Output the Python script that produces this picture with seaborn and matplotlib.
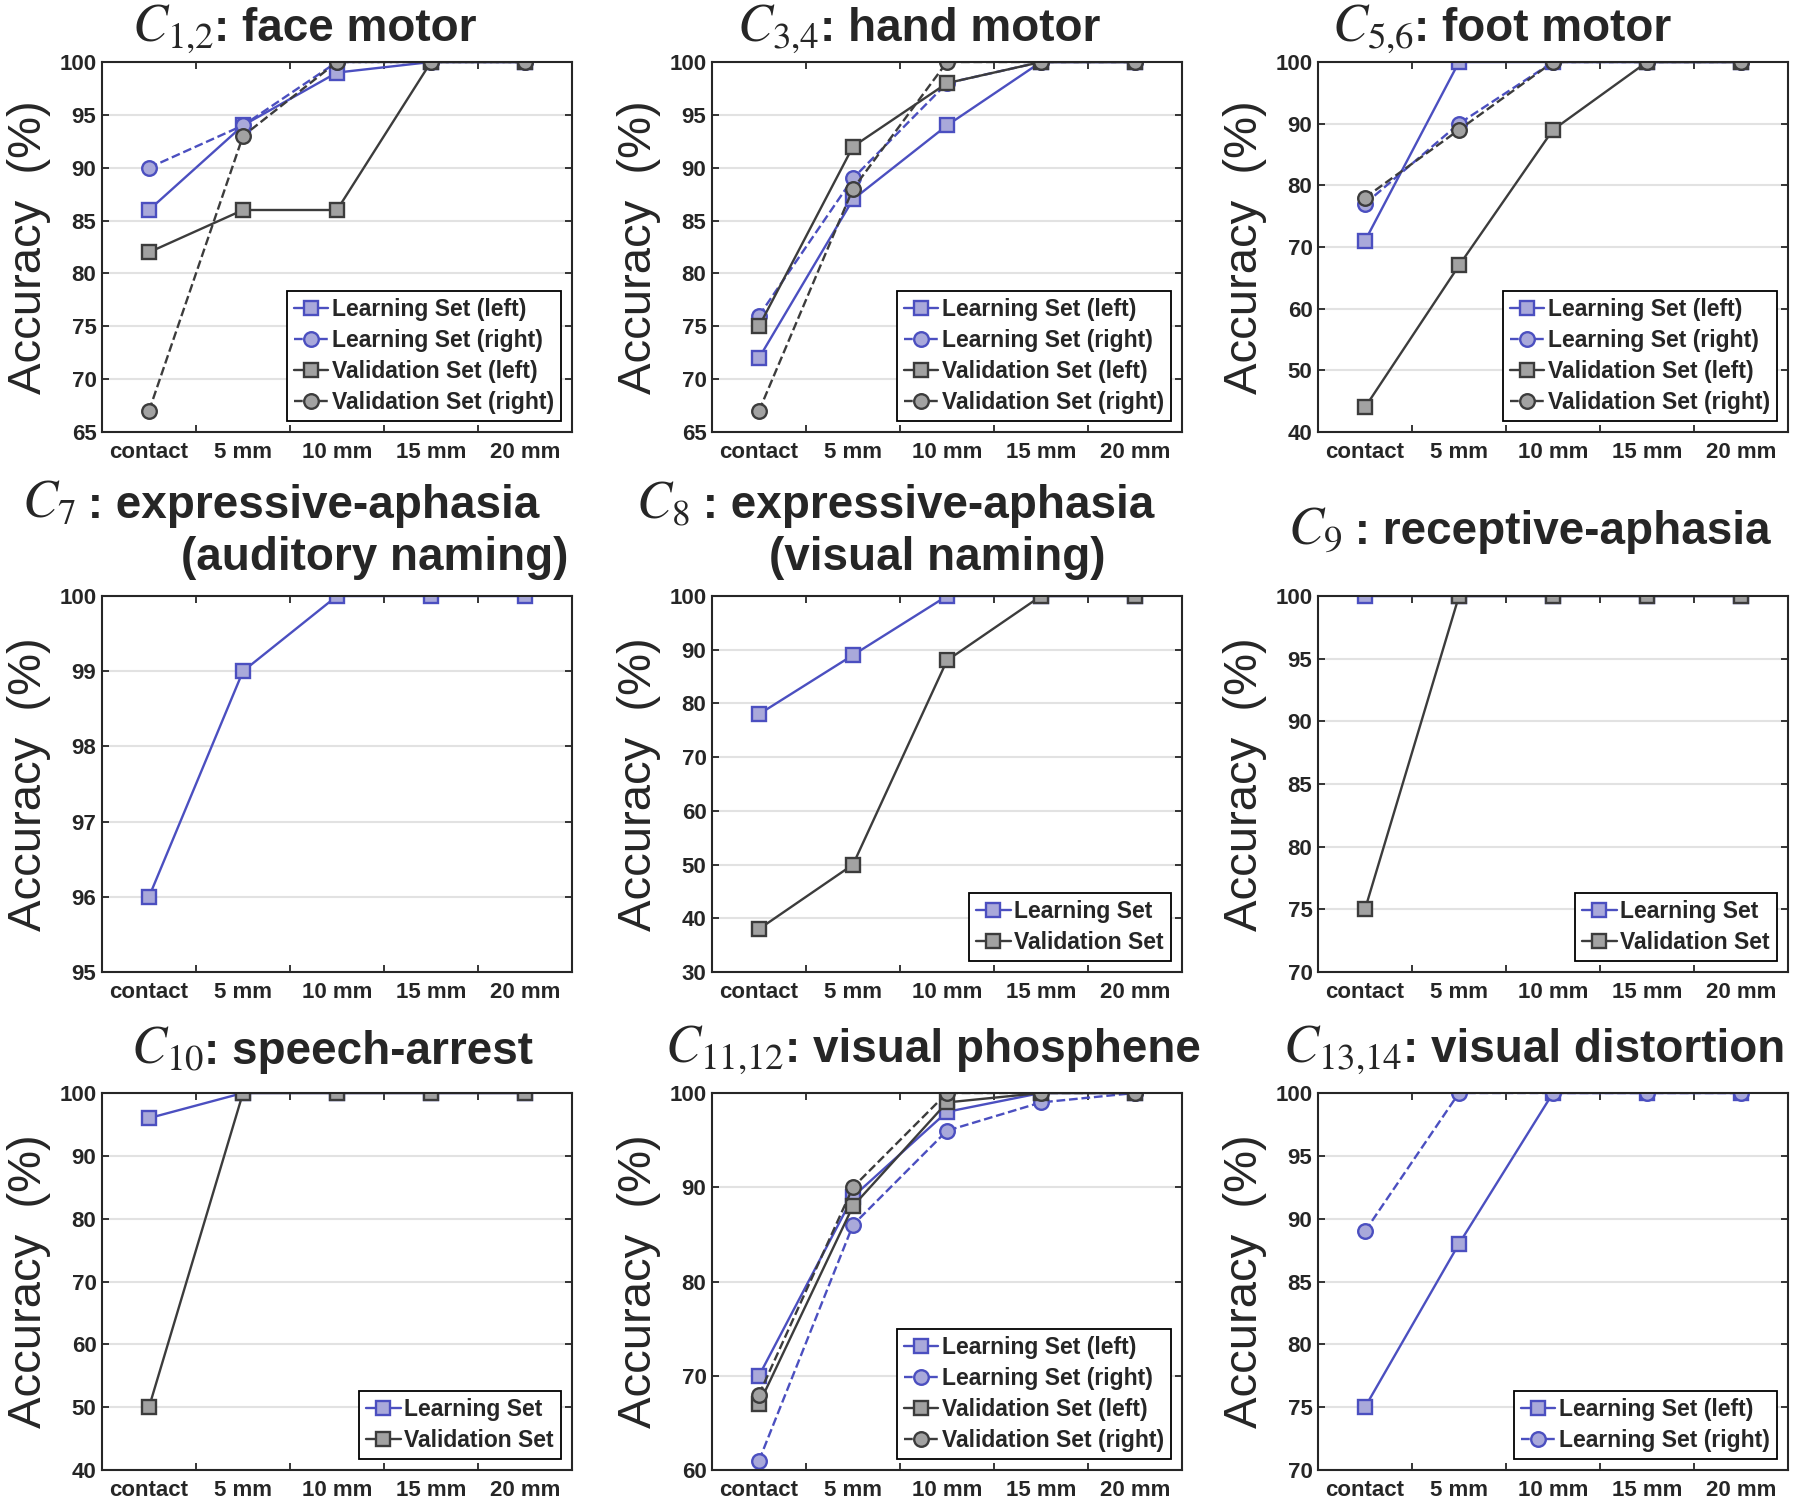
import numpy as np
import pandas as pd
import matplotlib
matplotlib.use('Agg')
import matplotlib.pyplot as plt
from matplotlib.offsetbox import TextArea, HPacker, AnchoredOffsetbox
import seaborn as sns

# x categories
distances = ['contact', '5 mm', '10 mm', '15 mm', '20 mm']

# C1,2 face motor
face_ls_left = [86, 94, 99, 100, 100]
face_ls_right = [90, 94, 100, 100, 100]
face_vs_left = [82, 86, 86, 100, 100]
face_vs_right = [67, 93, 100, 100, 100]

# C3,4 hand motor
hand_ls_left = [72, 87, 94, 100, 100]
hand_ls_right = [76, 89, 98, 100, 100]
hand_vs_left = [75, 92, 98, 100, 100]
hand_vs_right = [67, 88, 100, 100, 100]

# C5,6 foot motor
foot_ls_left = [71, 100, 100, 100, 100]
foot_ls_right = [77, 90, 100, 100, 100]
foot_vs_left = [44, 67, 89, 100, 100]
foot_vs_right = [78, 89, 100, 100, 100]

# C7 expressive aphasia (auditory naming)
c7_ls = [96, 99, 100, 100, 100]

# C8 expressive aphasia (visual naming)
c8_ls = [78, 89, 100, 100, 100]
c8_vs = [38, 50, 88, 100, 100]

# C9 receptive aphasia
c9_ls = [100, 100, 100, 100, 100]
c9_vs = [75, 100, 100, 100, 100]

# C10 speech arrest
c10_ls = [96, 100, 100, 100, 100]
c10_vs = [50, 100, 100, 100, 100]

# C11,12 visual phosphene
phos_ls_left = [70, 89, 98, 100, 100]
phos_ls_right = [61, 86, 96, 99, 100]
phos_vs_left = [67, 88, 99, 100, 100]
phos_vs_right = [68, 90, 100, 100, 100]

# C13,14 visual distortion
dist_ls_left = [75, 88, 100, 100, 100]
dist_ls_right = [89, 100, 100, 100, 100]

# y-axis ranges (min, max, step)
y_ranges = [(65, 100, 5), (65, 100, 5), (40, 100, 10),
            (95, 100, 1), (30, 100, 10), (70, 100, 5),
            (40, 100, 10), (60, 100, 10), (70, 100, 5)]

# titles: (math symbol, text, second line)
titles = [
    (r'$C_{1{,}2}$', ': face motor', None),
    (r'$C_{3{,}4}$', ': hand motor', None),
    (r'$C_{5{,}6}$', ': foot motor', None),
    (r'$C_{7}$', ' : expressive-aphasia', '(auditory naming)'),
    (r'$C_{8}$', ' : expressive-aphasia', '(visual naming)'),
    (r'$C_{9}$', ' : receptive-aphasia', None),
    (r'$C_{10}$', ': speech-arrest', None),
    (r'$C_{11{,}12}$', ': visual phosphene', None),
    (r'$C_{13{,}14}$', ': visual distortion', None),
]

panels = [
    [('Learning Set (left)', face_ls_left, 'ls_l'), ('Learning Set (right)', face_ls_right, 'ls_r'),
     ('Validation Set (left)', face_vs_left, 'vs_l'), ('Validation Set (right)', face_vs_right, 'vs_r')],
    [('Learning Set (left)', hand_ls_left, 'ls_l'), ('Learning Set (right)', hand_ls_right, 'ls_r'),
     ('Validation Set (left)', hand_vs_left, 'vs_l'), ('Validation Set (right)', hand_vs_right, 'vs_r')],
    [('Learning Set (left)', foot_ls_left, 'ls_l'), ('Learning Set (right)', foot_ls_right, 'ls_r'),
     ('Validation Set (left)', foot_vs_left, 'vs_l'), ('Validation Set (right)', foot_vs_right, 'vs_r')],
    [('Learning Set', c7_ls, 'ls_l')],
    [('Learning Set', c8_ls, 'ls_l'), ('Validation Set', c8_vs, 'vs_l')],
    [('Learning Set', c9_ls, 'ls_l'), ('Validation Set', c9_vs, 'vs_l')],
    [('Learning Set', c10_ls, 'ls_l'), ('Validation Set', c10_vs, 'vs_l')],
    [('Learning Set (left)', phos_ls_left, 'ls_l'), ('Learning Set (right)', phos_ls_right, 'ls_r'),
     ('Validation Set (left)', phos_vs_left, 'vs_l'), ('Validation Set (right)', phos_vs_right, 'vs_r')],
    [('Learning Set (left)', dist_ls_left, 'ls_l'), ('Learning Set (right)', dist_ls_right, 'ls_r')],
]
show_legend = [True, True, True, False, True, True, True, True, True]

blue = '#4b4fc0'
blue_face = '#a9a9da'
gray = '#3c3c3c'
gray_face = '#a2a2a2'
styles = {
    'ls_l': dict(color=blue, marker='s', linestyle='-', markerfacecolor=blue_face, markeredgecolor=blue),
    'ls_r': dict(color=blue, marker='o', linestyle='--', markerfacecolor=blue_face, markeredgecolor=blue),
    'vs_l': dict(color=gray, marker='s', linestyle='-', markerfacecolor=gray_face, markeredgecolor=gray),
    'vs_r': dict(color=gray, marker='o', linestyle='--', markerfacecolor=gray_face, markeredgecolor=gray),
}

sns.set_theme(style='white')
plt.rcParams['font.family'] = ['Liberation Sans', 'DejaVu Sans']
plt.rcParams['mathtext.fontset'] = 'stix'

W, H = 1800, 1503
fig = plt.figure(figsize=(W / 100, H / 100), dpi=100)

col_left = [102, 712, 1318]
row_top = [62, 596, 1093]
row_h = [370, 376, 377]
aw = 470

# title placement: (x, y) of first line, (x, y) of second line in axes fraction
title_pos = [
    [(0.43, 1.09)], [(0.44, 1.09)], [(0.39, 1.09)],
    [(0.38, 1.245), (0.58, 1.10)], [(0.39, 1.245), (0.48, 1.10)], [(0.45, 1.175)],
    [(0.49, 1.115)], [(0.47, 1.115)], [(0.46, 1.115)],
]


def draw_title(ax, math, text, x, y):
    ta1 = TextArea(math, textprops=dict(fontsize=38))
    ta2 = TextArea(text, textprops=dict(fontsize=33, fontweight='bold'))
    box = HPacker(children=[ta1, ta2], align='baseline', pad=0, sep=0)
    ab = AnchoredOffsetbox(loc='center', child=box, bbox_to_anchor=(x, y),
                           bbox_transform=ax.transAxes, frameon=False, pad=0, borderpad=0)
    ax.add_artist(ab)


xpos = np.arange(len(distances))

for i in range(9):
    r, c = divmod(i, 3)
    ah = row_h[r]
    ax = fig.add_axes([col_left[c] / W, 1 - (row_top[r] + ah) / H, aw / W, ah / H])
    for label, vals, kind in panels[i]:
        sns.lineplot(x=xpos, y=vals, ax=ax, label=label, linewidth=1.7,
                     markersize=10.5, markeredgewidth=1.7, **styles[kind])
    ymin, ymax, step = y_ranges[i]
    ax.set_ylim(ymin, ymax)
    ax.set_yticks(np.arange(ymin, ymax + 0.1, step))
    ax.set_xlim(-0.5, len(distances) - 0.5)
    ax.set_xticks(xpos)
    ax.set_xticklabels(distances)
    ax.set_xticks(xpos[:-1] + 0.5, minor=True)
    ax.tick_params(axis='x', which='major', length=0, pad=7, labelsize=16)
    ax.tick_params(axis='x', which='minor', direction='in', length=5, width=1.3,
                   top=True, bottom=True, color='#262626')
    ax.tick_params(axis='y', which='major', direction='in', length=5, width=1.3,
                   left=True, right=True, pad=4, labelsize=16, color='#262626')
    for t in ax.get_xticklabels() + ax.get_yticklabels():
        t.set_fontweight('bold')
    ax.yaxis.grid(True, color='#e2e2e2', linewidth=1.5)
    ax.xaxis.grid(False)
    ax.set_axisbelow(True)
    for sp in ax.spines.values():
        sp.set_color('#262626')
        sp.set_linewidth(1.5)
    ax.set_xlabel('')
    ax.set_ylabel('Accuracy  (%)', fontsize=34, labelpad=6)

    math, text, line2 = titles[i]
    tx, ty = title_pos[i][0]
    draw_title(ax, math, text, tx, ty)
    if line2 is not None:
        tx2, ty2 = title_pos[i][1]
        ax.text(tx2, ty2, line2, transform=ax.transAxes, ha='center', va='center',
                fontsize=33, fontweight='bold')

    if show_legend[i]:
        ax.legend(loc='lower right', frameon=True, fancybox=False, edgecolor='black',
                  framealpha=1, prop=dict(weight='bold', size=16.5), handlelength=1.5,
                  handletextpad=0.15, borderpad=0.3, labelspacing=0.35, borderaxespad=0.5)
        ax.get_legend().get_frame().set_linewidth(1.3)
    else:
        if ax.get_legend() is not None:
            ax.get_legend().remove()

fig.savefig('out.png', dpi=100)
